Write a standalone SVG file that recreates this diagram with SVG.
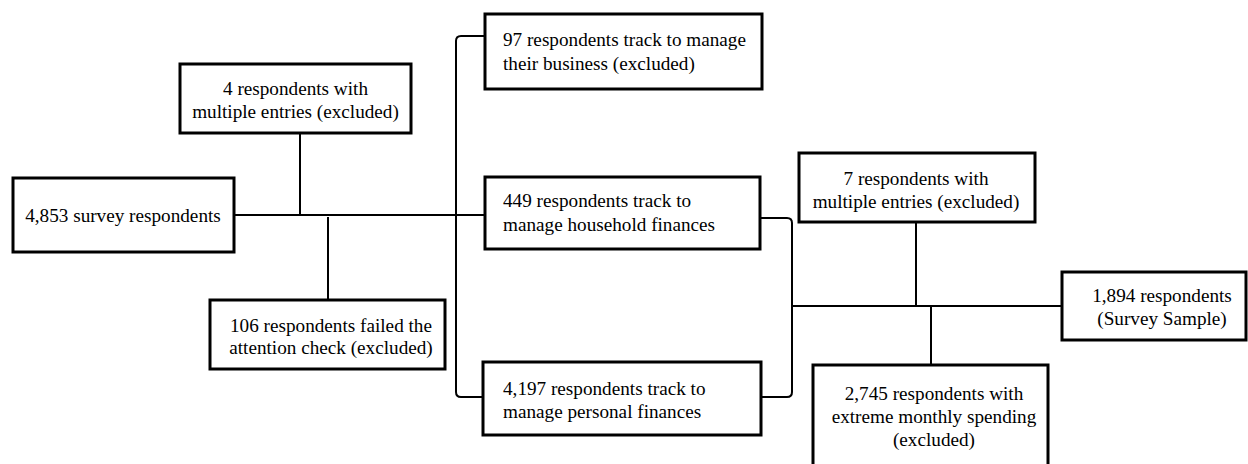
<svg xmlns="http://www.w3.org/2000/svg" width="1248" height="464" viewBox="0 0 1248 464">
<style>
.box{fill:#fff;stroke:#000;stroke-width:3}
text{font-family:'Liberation Serif','Times New Roman',serif;font-size:19.2px;fill:#000}
.c{text-anchor:middle}
.conn{fill:none;stroke:#000;stroke-width:2}
</style>
<rect width="1248" height="464" fill="#fff"/>
<g id="connectors">
<path class="conn" d="M234,215 L485,215"/>
<path class="conn" d="M300,133 L300,215"/>
<path class="conn" d="M328,217 L328,300"/>
<path class="conn" d="M485,36 L461,36 Q456,36 456,41 L456,392 Q456,397 461,397 L483,397"/>
<path class="conn" d="M760,218 L787,218 Q792,218 792,223 L792,392 Q792,397 787,397 L761,397"/>
<path class="conn" d="M792,306 L1062,306"/>
<path class="conn" d="M916,222 L916,306"/>
<path class="conn" d="M931,307 L931,365"/>
</g>
<g id="n4853">
<rect class="box" x="13" y="178" width="221" height="74"/>
<text class="c" x="123" y="222">4,853 survey respondents</text>
</g>
<g id="n4multi">
<rect class="box" x="180" y="64" width="231" height="69"/>
<text class="c" x="295.5" y="95">4 respondents with</text>
<text class="c" x="295.5" y="118">multiple entries (excluded)</text>
</g>
<g id="n106">
<rect class="box" x="210" y="300" width="235" height="69"/>
<text class="c" x="331" y="332">106 respondents failed the</text>
<text class="c" x="331" y="354">attention check (excluded)</text>
</g>
<g id="n97">
<rect class="box" x="485" y="14" width="277" height="75"/>
<text x="503" y="46">97 respondents track to manage</text>
<text x="503" y="70">their business (excluded)</text>
</g>
<g id="n449">
<rect class="box" x="485" y="177" width="275" height="72"/>
<text x="503" y="207">449 respondents track to</text>
<text x="503" y="231">manage household finances</text>
</g>
<g id="n4197">
<rect class="box" x="483" y="362" width="278" height="73"/>
<text x="503" y="395">4,197 respondents track to</text>
<text x="503" y="418">manage personal finances</text>
</g>
<g id="n7multi">
<rect class="box" x="799" y="153" width="236" height="69"/>
<text class="c" x="916" y="185">7 respondents with</text>
<text class="c" x="916" y="208">multiple entries (excluded)</text>
</g>
<g id="n1894">
<rect class="box" x="1062" y="272" width="184" height="68"/>
<text class="c" x="1162" y="302">1,894 respondents</text>
<text class="c" x="1162" y="325">(Survey Sample)</text>
</g>
<g id="n2745">
<rect class="box" x="813" y="365" width="235" height="102"/>
<text class="c" x="934" y="400">2,745 respondents with</text>
<text class="c" x="934" y="423">extreme monthly spending</text>
<text class="c" x="934" y="446">(excluded)</text>
</g>
</svg>
